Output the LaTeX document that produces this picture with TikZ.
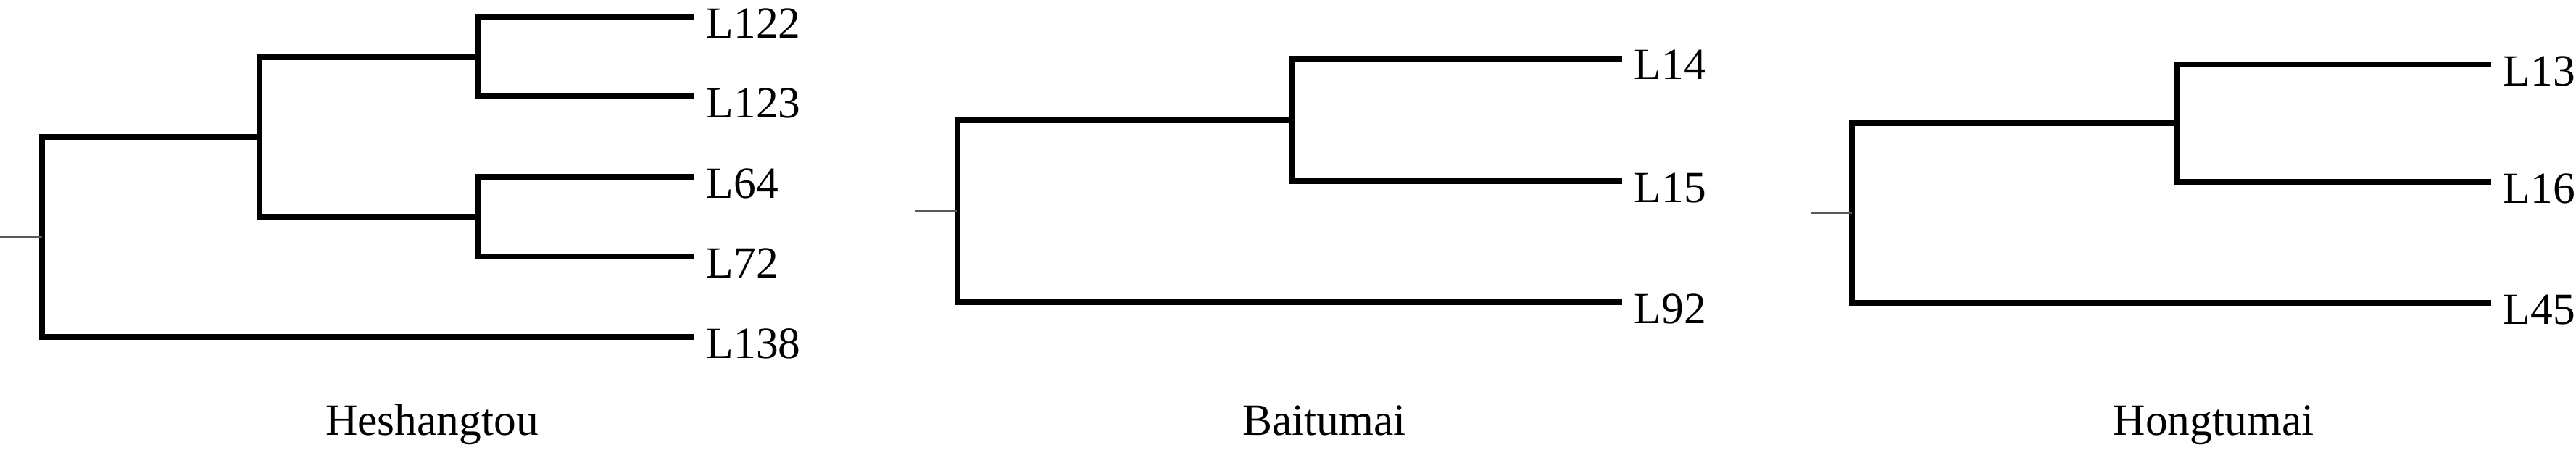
\documentclass[tikz,border=0pt]{standalone}
\usepackage{fontspec}
\setmainfont{Liberation Serif}
\tikzset{
  branch/.style={line width=2.3pt, black},
  stub/.style={line width=0.6pt, black!65},
  leaf/.style={anchor=base west, inner sep=0pt, xshift=0.16cm, yshift=-0.29cm,
    font=\fontsize{17.5}{20}\selectfont},
  site/.style={anchor=base, inner sep=0pt, font=\fontsize{17.5}{20}\selectfont}
}
\begin{document}
\begin{tikzpicture}
    \path[use as bounding box] (0,0) rectangle (35.54,6.2);

    % Heshangtou
    \foreach \n/\y in {122/5.96, 123/4.87, 64/3.76, 72/2.66, 138/1.55} {
        \coordinate (h\n) at (9.58, \y);
        \node[leaf] (lh\n) at (h\n) {L\n};
    }
    \coordinate (hb) at (6.60, 5.415);
    \coordinate (hc) at (6.60, 3.21);
    \coordinate (ha) at (3.58, 4.31);
    \coordinate (hr) at (0.58, 2.93);
    \coordinate (hs) at (0, 2.93);
    \draw[branch] (h122) -| (hb) |- (h123);
    \draw[branch] (h64) -| (hc) |- (h72);
    \draw[branch] (hb) -| (ha) |- (hc);
    \draw[branch] (ha) -| (hr) |- (h138);
    \draw[stub] (hs) -- (hr);
    \node[site] (heshangtou) at (5.96, 0.20) {Heshangtou};

    % Baitumai
    \foreach \n/\y in {14/5.39, 15/3.70, 92/2.03} {
        \coordinate (b\n) at (22.38, \y);
        \node[leaf] (lb\n) at (b\n) {L\n};
    }
    \coordinate (bd) at (17.82, 4.545);
    \coordinate (br) at (13.21, 3.29);
    \coordinate (bs) at (12.62, 3.29);
    \draw[branch] (b14) -| (bd) |- (b15);
    \draw[branch] (bd) -| (br) |- (b92);
    \draw[stub] (bs) -- (br);
    \node[site] (baitumai) at (18.27, 0.20) {Baitumai};

    % Hongtumai
    \foreach \n/\y in {13/5.31, 16/3.69, 45/2.02} {
        \coordinate (r\n) at (34.37, \y);
        \node[leaf] (lr\n) at (r\n) {L\n};
    }
    \coordinate (re) at (30.03, 4.50);
    \coordinate (rr) at (25.55, 3.26);
    \coordinate (rs) at (24.98, 3.26);
    \draw[branch] (r13) -| (re) |- (r16);
    \draw[branch] (re) -| (rr) |- (r45);
    \draw[stub] (rs) -- (rr);
    \node[site] (hongtumai) at (30.54, 0.20) {Hongtumai};
\end{tikzpicture}
\end{document}
